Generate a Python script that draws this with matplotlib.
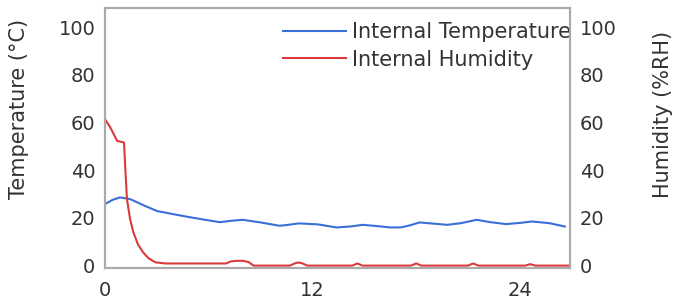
import matplotlib
matplotlib.use("Agg")
import matplotlib.pyplot as plt

# ---- data ----
temp_hours = [0, 0.45, 0.87, 1.45, 2.2, 3.0, 4.0, 4.9, 5.8, 6.65, 7.3, 7.98,
              9.0, 10.1, 10.6, 11.2, 12.3, 13.4, 14.2, 14.9, 15.7, 16.5, 17.1,
              17.6, 18.2, 19.0, 19.8, 20.6, 21.5, 22.3, 23.2, 24.0, 24.7, 25.7,
              26.6]
temp_values = [25.8, 27.6, 28.6, 27.9, 25.4, 22.9, 21.5, 20.3, 19.2, 18.2, 18.8, 19.2,
               18.1, 16.7, 17.1, 17.7, 17.3, 16.0, 16.4, 17.1, 16.6, 16.0, 16.0,
               16.8, 18.1, 17.6, 17.1, 17.8, 19.2, 18.2, 17.4, 17.9, 18.5, 17.8,
               16.4]

hum_hours = [0, 0.3, 0.7, 1.1, 1.18, 1.27, 1.45, 1.64, 1.9, 2.2, 2.5, 2.9, 3.5,
             7.0, 7.3, 7.6, 8.0, 8.3, 8.6, 10.7, 11.0, 11.2, 11.4, 11.7,
             14.3, 14.6, 14.9, 17.7, 18.0, 18.3, 21.0, 21.3, 21.6,
             24.3, 24.6, 24.9, 26.9]
hum_values = [61.4, 58.0, 52.3, 51.6, 40.0, 27.9, 19.5, 14.0, 9.0, 5.6, 3.2, 1.4, 0.9,
              0.9, 1.8, 2.0, 2.0, 1.5, 0.0, 0.0, 1.0, 1.3, 1.0, 0.0,
              0.0, 0.9, 0.0, 0.0, 0.9, 0.0, 0.0, 0.9, 0.0,
              0.0, 0.6, 0.0, 0.0]

x_ticks = [0, 12, 24]
y_ticks = [0, 20, 40, 60, 80, 100]

temp_label = "Internal Temperature"
hum_label = "Internal Humidity"

# ---- figure ----
plt.rcParams['font.family'] = ['DejaVu Sans']
text_color = '#333333'
frame_color = '#aaaaaa'

fig = plt.figure(figsize=(6.75, 3.01), dpi=100)
ax = fig.add_axes([105/675, 1-268/301, 465/675, 260/301])
ax2 = ax.twinx()

l1, = ax.plot(temp_hours, temp_values, color='#3a6fd8', lw=1.5, label=temp_label)
l2, = ax2.plot(hum_hours, hum_values, color='#d93a3c', lw=1.5, label=hum_label)

for a in (ax, ax2):
    a.set_ylim(-1, 108)
    a.set_yticks(y_ticks)
    a.set_xlim(0, 26.9)
    for s in a.spines.values():
        s.set_color(frame_color)
        s.set_linewidth(1.5)
    a.tick_params(length=0, labelsize=14, colors=text_color, pad=7)

ax.set_xticks(x_ticks)
ax.tick_params(axis='x', pad=9)

ax.set_ylabel("Temperature (°C)", fontsize=15, color=text_color)
ax.yaxis.set_label_coords(-0.163, 0.61)
ax2.set_ylabel("Humidity (%RH)", fontsize=15, color=text_color)
ax2.yaxis.set_label_coords(1.178, 0.59)

leg = ax.legend([l1, l2], [temp_label, hum_label], loc='upper left',
                bbox_to_anchor=((283-105)/465, 0.945), frameon=False,
                fontsize=15, handlelength=3.0, handletextpad=0.33,
                borderpad=0, borderaxespad=0, labelspacing=0.35)
for t in leg.get_texts():
    t.set_color(text_color)
leg.set_zorder(5)

fig.savefig("out.png", dpi=100)
